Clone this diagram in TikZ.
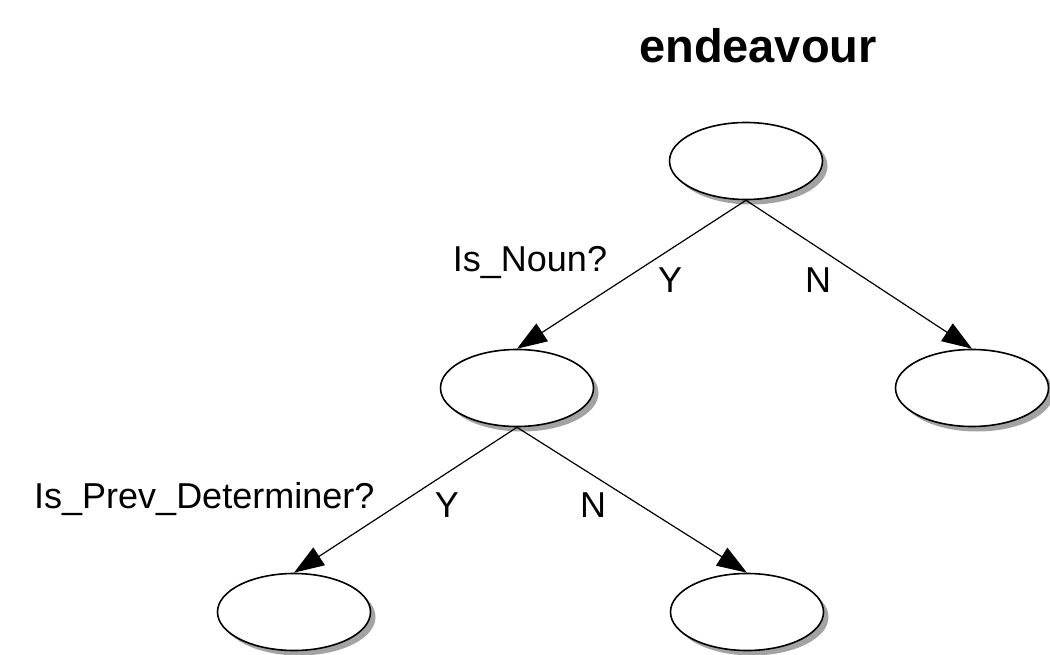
\documentclass[tikz,border=0pt]{standalone}
\usepackage{fontspec}
\setmainfont{Liberation Sans}
\usetikzlibrary{shapes.geometric,shadows,arrows.meta}
\begin{document}
\begin{tikzpicture}[x=1pt,y=-1pt,
  tnode/.style={ellipse,draw=black,line width=1.6pt,fill=white,minimum width=153pt,minimum height=77pt,inner sep=0pt,
    drop shadow={shadow xshift=5pt,shadow yshift=-5pt,fill=black!45,opacity=0.8}},
  edge/.style={line width=1.2pt,-{Triangle[length=30pt,width=21pt]}},
  lbl/.style={font=\fontsize{36}{40}\selectfont,inner sep=0pt,anchor=base}]
\useasboundingbox (0,0) rectangle (1050,655);
\node[font=\bfseries\fontsize{47}{52}\selectfont,inner sep=0pt,anchor=base] (title) at (758,63) {endeavour};
\node[tnode] (root) at (746,161) {};
\node[tnode] (ml) at (517,388) {};
\node[tnode] (mr) at (972,388) {};
\node[tnode] (bl) at (294,612) {};
\node[tnode] (br) at (747,612) {};
\draw[edge] (root.south) -- (ml.north);
\draw[edge] (root.south) -- (mr.north);
\draw[edge] (ml.south) -- (bl.north);
\draw[edge] (ml.south) -- (br.north);
\node[lbl] (q1) at (530,272) {Is\_Noun?};
\node[lbl,anchor=base west] (q2) at (34,508) {Is\_Prev\_Determiner?};
\node[lbl] (y1) at (670,292) {Y};
\node[lbl] (n1) at (818,293) {N};
\node[lbl] (y2) at (447,517) {Y};
\node[lbl] (n2) at (593,517) {N};
\end{tikzpicture}
\end{document}
